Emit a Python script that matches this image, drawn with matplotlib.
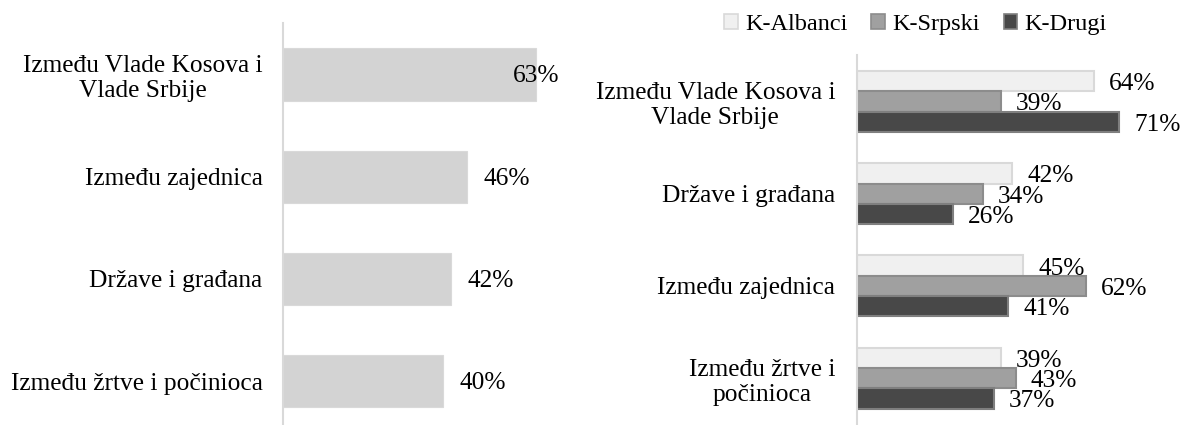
import matplotlib
matplotlib.use("Agg")
import matplotlib.pyplot as plt
from matplotlib.patches import Patch

plt.rcParams['font.family'] = ['Liberation Serif', 'DejaVu Serif']

# ---- data ----
left_categories = ["Između Vlade Kosova i\nVlade Srbije", "Između zajednica",
                   "Države i građana", "Između žrtve i počinioca"]
left_values = [63, 46, 42, 40]

right_categories = ["Između Vlade Kosova i\nVlade Srbije", "Države i građana",
                    "Između zajednica", "Između žrtve i\npočinioca"]
series_names = ["K-Albanci", "K-Srpski", "K-Drugi"]
k_albanci = [64, 42, 45, 39]
k_srpski = [39, 34, 62, 43]
k_drugi = [71, 26, 41, 37]

W, H = 1182, 425
fig = plt.figure(figsize=(W / 100, H / 100), dpi=100)
FS = 18.3

def px_axes(x0, top, w, h):
    return fig.add_axes([x0 / W, (H - top - h) / H, w / W, h / H])

def style(ax, pad):
    for s in ["top", "right", "bottom"]:
        ax.spines[s].set_visible(False)
    ax.spines["left"].set_color("#D9D9D9")
    ax.spines["left"].set_linewidth(1.5)
    ax.tick_params(axis="both", length=0)
    ax.set_xticks([])
    ax.tick_params(axis="y", pad=pad, labelsize=FS)
    for lab in ax.get_yticklabels():
        lab.set_multialignment("center")
        lab.set_linespacing(1.2)

# ---- left panel ----
axL = px_axes(282.7, 23.4, 70 * 4.015, 408.8)
yl = list(range(len(left_categories)))
axL.barh(yl, left_values, height=0.51, color="#D3D3D3", edgecolor="#D9D9D9", linewidth=0.8)
axL.set_xlim(0, 70)
axL.set_ylim(len(left_categories) - 0.5, -0.5)
axL.set_yticks(yl)
axL.set_yticklabels(left_categories)
style(axL, 14.5)
for y, v in zip(yl, left_values):
    if v > 60:
        axL.annotate(f"{v}%", (v, y), xytext=(0, -2), textcoords="offset pixels",
                     ha="center", va="center", fontsize=FS)
    else:
        axL.annotate(f"{v}%", (v, y), xytext=(16, -2), textcoords="offset pixels",
                     ha="left", va="center", fontsize=FS)

# ---- right panel ----
axR = px_axes(856.7, 55.4, 88 * 3.7, 368.8)
yr = list(range(len(right_categories)))
bh = 0.22
colors = ["#F0F0F0", "#A0A0A0", "#484848"]
edges = ["#D9D9D9", "#8C8C8C", "#7F7F7F"]
series = [k_albanci, k_srpski, k_drugi]
for i, (vals, c, e) in enumerate(zip(series, colors, edges)):
    off = (i - 1) * bh
    pos = [y + off for y in yr]
    axR.barh(pos, vals, height=bh, color=c, edgecolor=e, linewidth=1.5)
    for p, v in zip(pos, vals):
        axR.annotate(f"{v}%", (v, p), xytext=(15, -3), textcoords="offset pixels",
                     ha="left", va="center", fontsize=FS)
axR.set_xlim(0, 88)
axR.set_ylim(len(right_categories) - 0.5, -0.5)
axR.set_yticks(yr)
axR.set_yticklabels(right_categories)
style(axR, 15.5)

handles = [Patch(facecolor=c, edgecolor=e, linewidth=1.2) for c, e in zip(colors, edges)]
fig.legend(handles, series_names, loc="center", bbox_to_anchor=(915.5 / W, 1 - 24.5 / H),
           ncol=3, frameon=False, fontsize=17.5, handlelength=0.55, handleheight=0.55,
           handletextpad=0.3, columnspacing=1.0)

fig.savefig("out.png", dpi=100)
